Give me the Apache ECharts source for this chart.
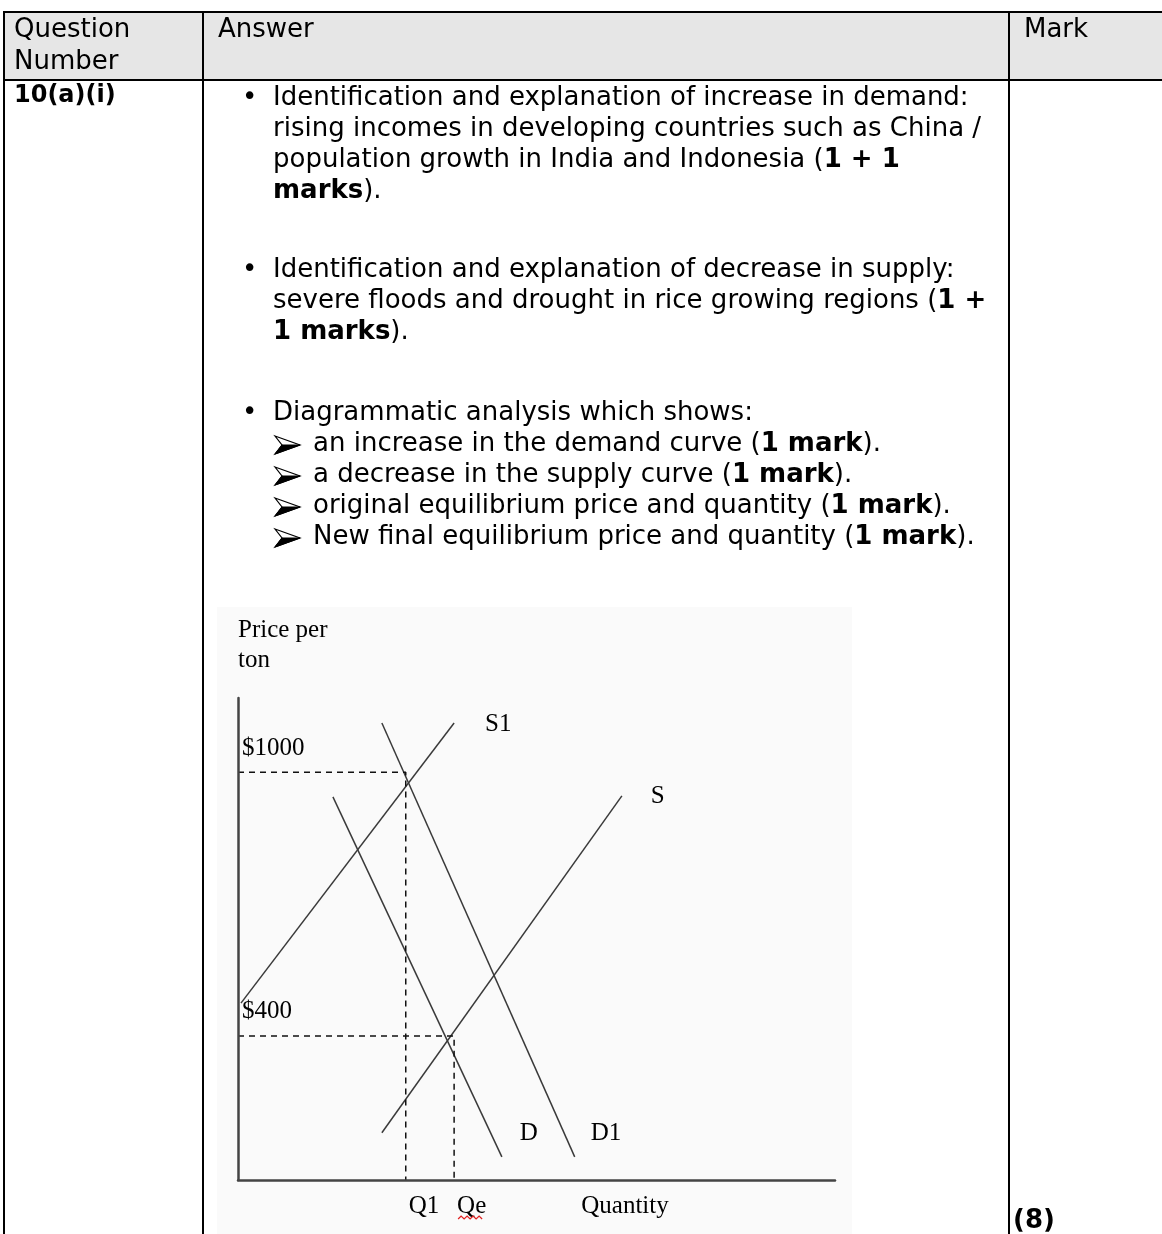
<!DOCTYPE html>
<html><head><meta charset="utf-8">
<script src="https://cdn.jsdelivr.net/npm/echarts@6/dist/echarts.min.js"></script>
<style>html,body{margin:0;padding:0;background:#fff}#c{width:1162px;height:1234px}</style>
</head><body><div id="c"></div>
<script>
// ---- chart data (diagram units: quantity 0-100, price 0-100 along the drawn axes) ----
const curveNames = ['S1', 'S', 'D', 'D1'];
const curveS1 = [[0.5, 36.7], [36.2, 94.8]];
const curveS = [[24.1, 9.8], [64.3, 79.7]];
const curveD = [[15.9, 79.5], [44.2, 4.8]];
const curveD1 = [[24.1, 94.8], [56.4, 4.8]];
const priceLabels = ['$1000', '$400'];
const priceLevels = [84.6, 29.9];
const quantityLabels = ['Q1', 'Qe'];
const quantityLevels = [28.1, 36.2];
const axisNames = ['Price per\nton', 'Quantity'];

// ---- table text ----
const headerCells = ['Question', 'Number', 'Answer', 'Mark'];
const questionNumber = '10(a)(i)';
const markTotal = '(8)';
const answerLines = [
  '{n|Identification and explanation of increase in demand:}',
  '{n|rising incomes in developing countries such as China /}',
  '{n|population growth in India and Indonesia (}{b|1 + 1}',
  '{b|marks}{n|).}',
  '{n|Identification and explanation of decrease in supply:}',
  '{n|severe floods and drought in rice growing regions (}{b|1 +}',
  '{b|1 marks}{n|).}',
  '{n|Diagrammatic analysis which shows:}',
  '{n|an increase in the demand curve (}{b|1 mark}{n|).}',
  '{n|a decrease in the supply curve (}{b|1 mark}{n|).}',
  '{n|original equilibrium price and quantity (}{b|1 mark}{n|).}',
  '{n|New final equilibrium price and quantity (}{b|1 mark}{n|).}'
];
const lineMarker = ['bullet','','','','bullet','','','bullet','arrow','arrow','arrow','arrow'];

// ---- layout ----
const lineY = [98, 129, 160, 191, 270, 301, 332, 413, 444, 475, 506, 537];
const FS = 26, FF = '"DejaVu Sans", Verdana, sans-serif';
const SERIF = '"Liberation Serif", "Times New Roman", serif';
const rich = {
  n: {fontSize: FS, fontFamily: FF, fontWeight: 'normal', fill: '#000'},
  b: {fontSize: FS, fontFamily: FF, fontWeight: 'bold', fill: '#000'},
  qb: {fontSize: 24, fontFamily: FF, fontWeight: 'bold', fill: '#000'}
};
function txt(x, y, text, extra) {
  return Object.assign({type: 'text', x: x, y: y, z: 20,
    style: Object.assign({text: text, fontSize: FS, fontFamily: FF, fill: '#000',
      align: 'left', verticalAlign: 'middle', rich: rich}, extra || {})});
}
function serifTxt(x, y, text, align) {
  return {type: 'text', x: x, y: y, z: 25,
    style: {text: text, fontSize: 25, fontFamily: SERIF, fill: '#000', align: align || 'left', verticalAlign: 'middle'}};
}
function ln(x1, y1, x2, y2, w) {
  return {type: 'line', z: 30, shape: {x1: x1, y1: y1, x2: x2, y2: y2},
    style: {stroke: '#000', lineWidth: w || 2}};
}
function arrowHead(x, y) {
  return {type: 'group', x: x, y: y, z: 20, children: [
    {type: 'polygon', z: 20, shape: {points: [[0, -9], [25, 0], [0, 9], [7, 0]]},
      style: {fill: '#fff', stroke: '#000', lineWidth: 1.2}},
    {type: 'polygon', z: 21, shape: {points: [[7, 0], [25, 0], [0, 9]]},
      style: {fill: '#000', stroke: '#000', lineWidth: 1}}
  ]};
}

const graphics = [];
graphics.push({type: 'rect', z: -5, shape: {x: 3, y: 12, width: 1159, height: 68}, style: {fill: '#e6e6e6'}});
graphics.push({type: 'rect', z: -5, shape: {x: 217, y: 607, width: 635, height: 627}, style: {fill: '#fafafa'}});
graphics.push(ln(3, 12, 1162, 12), ln(3, 80, 1162, 80), ln(4, 11, 4, 1234),
  ln(203, 11, 203, 1234), ln(1009, 11, 1009, 1234));
graphics.push(txt(14, 30, headerCells[0]), txt(14, 62, headerCells[1]),
  txt(218, 30, headerCells[2]), txt(1024, 30, headerCells[3]));
graphics.push(txt(14, 96, '{qb|' + questionNumber + '}'));
graphics.push(txt(1013, 1221, '{b|' + markTotal + '}'));
answerLines.forEach(function (t, i) {
  const m = lineMarker[i];
  let x = 273;
  if (m === 'bullet') graphics.push(txt(242, lineY[i], '{n|\u2022}'));
  if (m === 'arrow') { graphics.push(arrowHead(275, lineY[i] + 1)); x = 313; }
  graphics.push(txt(x, lineY[i], t));
});
graphics.push(serifTxt(625, 1206, axisNames[1], 'center'));

const labelFont = {fontSize: 25, fontFamily: SERIF, color: '#000'};
const curveOffsets = [[26, 1], [24, 1], [13, -23], [11, -23]];
const curves = [curveS1, curveS, curveD, curveD1];
const series = curves.map(function (c, i) {
  return {
    name: curveNames[i], type: 'line', data: c, symbol: 'none', silent: true, z: 4,
    lineStyle: {color: '#3a3a3a', width: 1.5},
    endLabel: Object.assign({show: true, formatter: function (p) { return p.seriesName; },
      distance: 5, offset: curveOffsets[i]}, labelFont)
  };
});
priceLevels.forEach(function (p, i) {
  const q = quantityLevels[i];
  series.push({
    type: 'line', silent: true, symbol: 'none', z: 4,
    data: [[0, p], [q, p], [q, 0]],
    lineStyle: {color: '#111', width: 1.5, type: [6, 5]}
  });
});

const axisCommon = {type: 'value', min: 0, max: 100, z: 6, splitLine: {show: false}, axisTick: {show: false},
  axisLabel: {show: false}, axisLine: {show: true, onZero: false, lineStyle: {color: '#444', width: 2.5}}};
const chart = echarts.init(document.getElementById('c'), null, {renderer: 'canvas'});
chart.setOption({
  animation: false,
  backgroundColor: '#fff',
  grid: {left: 238, top: 698, width: 597, height: 482},
  xAxis: Object.assign({}, axisCommon),
  yAxis: Object.assign({}, axisCommon, {
    name: axisNames[0], nameLocation: 'end', nameGap: 23,
    nameTextStyle: {fontSize: 25, fontFamily: SERIF, color: '#000', align: 'left', verticalAlign: 'bottom', lineHeight: 30}}),
  series: series,
  graphic: graphics
});
// price / quantity labels placed through the chart's own scales, plus spell-check squiggle under "Qe"
(function () {
  priceLevels.forEach(function (p, i) {
    const pp = chart.convertToPixel({gridIndex: 0}, [0, p]);
    graphics.push(serifTxt(pp[0] + 4, pp[1] - 24, priceLabels[i]));
    const qp = chart.convertToPixel({gridIndex: 0}, [quantityLevels[i], 0]);
    graphics.push(serifTxt(qp[0] + 3, qp[1] + 26, quantityLabels[i]));
  });
  const base = chart.convertToPixel({gridIndex: 0}, [quantityLevels[1], 0]);
  const pts = [];
  for (let k = 0; k <= 8; k++) pts.push([base[0] + 4 + k * 3, base[1] + 38 + (k % 2 ? -2 : 1)]);
  graphics.push({type: 'polyline', z: 25, shape: {points: pts}, style: {stroke: '#e02020', lineWidth: 1.2, fill: null}});
  chart.setOption({graphic: graphics});
})();
</script></body></html>
